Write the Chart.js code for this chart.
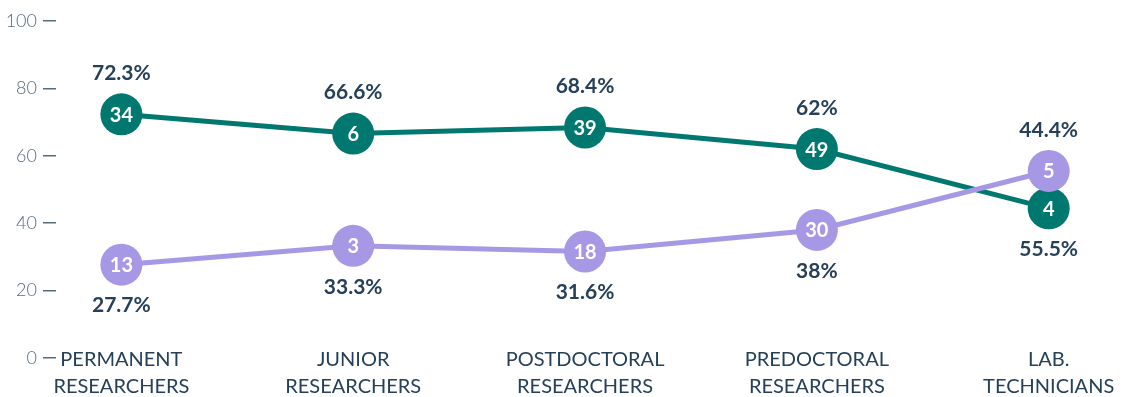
<!DOCTYPE html>
<html>
<head>
<meta charset="utf-8">
<script src="https://cdn.jsdelivr.net/npm/chart.js@4"></script>
<style>
    html, body { margin: 0; padding: 0; background: #ffffff; }
    #wrap { width: 1136px; height: 397px; }
</style>
</head>
<body>
<div id="wrap"><canvas id="staffChart"></canvas></div>
<script>
const categories = [
    ['PERMANENT', 'RESEARCHERS'],
    ['JUNIOR', 'RESEARCHERS'],
    ['POSTDOCTORAL', 'RESEARCHERS'],
    ['PREDOCTORAL', 'RESEARCHERS'],
    ['LAB.', 'TECHNICIANS']
];
const tealPercent = [72.3, 66.6, 68.4, 62, 44.4];
const tealCount = [34, 6, 39, 49, 4];
const lilacPercent = [27.7, 33.3, 31.6, 38, 55.5];
const lilacCount = [13, 3, 18, 30, 5];
const yTicks = [0, 20, 40, 60, 80, 100];

const tealColor = '#007870';
const lilacColor = '#a798e6';
const navy = '#26405a';

//The category labels start level with the 0 line, so the x axis box is
//pulled up a little after layout (its labels are clipped to that box).
const labelLift = 20;

function toPoints(values) {
    var points = [];
    values.forEach(function (v, i) {
        points.push({ x: i, y: v });
    });
    return points;
}

//Counts inside the circles, shares above and below each pair of points.
const pointLabels = {
    id: 'pointLabels',
    afterLayout(chart) {
        chart.scales.x.top -= labelLift;
    },
    afterDatasetsDraw(chart) {
        var ctx = chart.ctx;
        var teal = chart.getDatasetMeta(0).data;
        var lilac = chart.getDatasetMeta(1).data;
        ctx.save();
        ctx.textAlign = 'center';
        ctx.textBaseline = 'middle';

        ctx.font = 'bold 20px Lato';
        ctx.fillStyle = '#ffffff';
        for (let i = 0; i < teal.length; i++) {
            ctx.fillText(String(tealCount[i]), teal[i].x, teal[i].y + 1);
            ctx.fillText(String(lilacCount[i]), lilac[i].x, lilac[i].y + 1);
        }

        ctx.font = 'bold 21px Lato';
        ctx.fillStyle = navy;
        for (let i = 0; i < teal.length; i++) {
            var top = Math.min(teal[i].y, lilac[i].y);
            var bottom = Math.max(teal[i].y, lilac[i].y);
            ctx.fillText(tealPercent[i] + '%', teal[i].x, top - 41);
            ctx.fillText(lilacPercent[i] + '%', lilac[i].x, bottom + 41);
        }
        ctx.restore();
    }
};

var staffChart = new Chart(document.getElementById('staffChart'), {
    type: 'line',
    data: {
        datasets: [
            {
                label: 'Teal',
                data: toPoints(tealPercent),
                borderColor: tealColor,
                backgroundColor: tealColor,
                borderWidth: 5,
                pointRadius: 21,
                pointHoverRadius: 21,
                pointBorderWidth: 0,
                tension: 0,
                order: 1
            },
            {
                label: 'Lilac',
                data: toPoints(lilacPercent),
                borderColor: lilacColor,
                backgroundColor: lilacColor,
                borderWidth: 5,
                pointRadius: 21,
                pointHoverRadius: 21,
                pointBorderWidth: 0,
                tension: 0,
                order: 0
            }
        ]
    },
    options: {
        responsive: true,
        maintainAspectRatio: false,
        animation: false,
        layout: {
            padding: { top: 17, right: 10, bottom: 0, left: 0 }
        },
        scales: {
            x: {
                type: 'linear',
                min: -0.282,
                max: 4.286,
                grid: { display: false, drawTicks: false },
                border: { display: false },
                ticks: {
                    stepSize: 1,
                    includeBounds: false,
                    autoSkip: false,
                    maxRotation: 0,
                    padding: labelLift - 12,
                    color: navy,
                    font: { family: 'Lato', size: 20, lineHeight: 1.35 },
                    callback: function (value) {
                        return Number.isInteger(value) ? categories[value] : '';
                    }
                },
                afterFit: function (scale) {
                    scale.height = 39;
                }
            },
            y: {
                min: 0,
                max: 100,
                grid: {
                    drawOnChartArea: false,
                    drawTicks: true,
                    tickLength: 13,
                    color: '#566b7e',
                    lineWidth: 1.5
                },
                border: { display: false },
                ticks: {
                    stepSize: 20,
                    padding: 6,
                    color: '#566b7e',
                    font: { family: 'Lato', size: 18, weight: '300' },
                    callback: function (value) {
                        return yTicks.includes(value) ? value : '';
                    }
                },
                afterFit: function (scale) {
                    scale.width = 56;
                }
            }
        },
        plugins: {
            legend: { display: false },
            tooltip: { enabled: false }
        }
    },
    plugins: [pointLabels]
});
</script>
</body>
</html>
